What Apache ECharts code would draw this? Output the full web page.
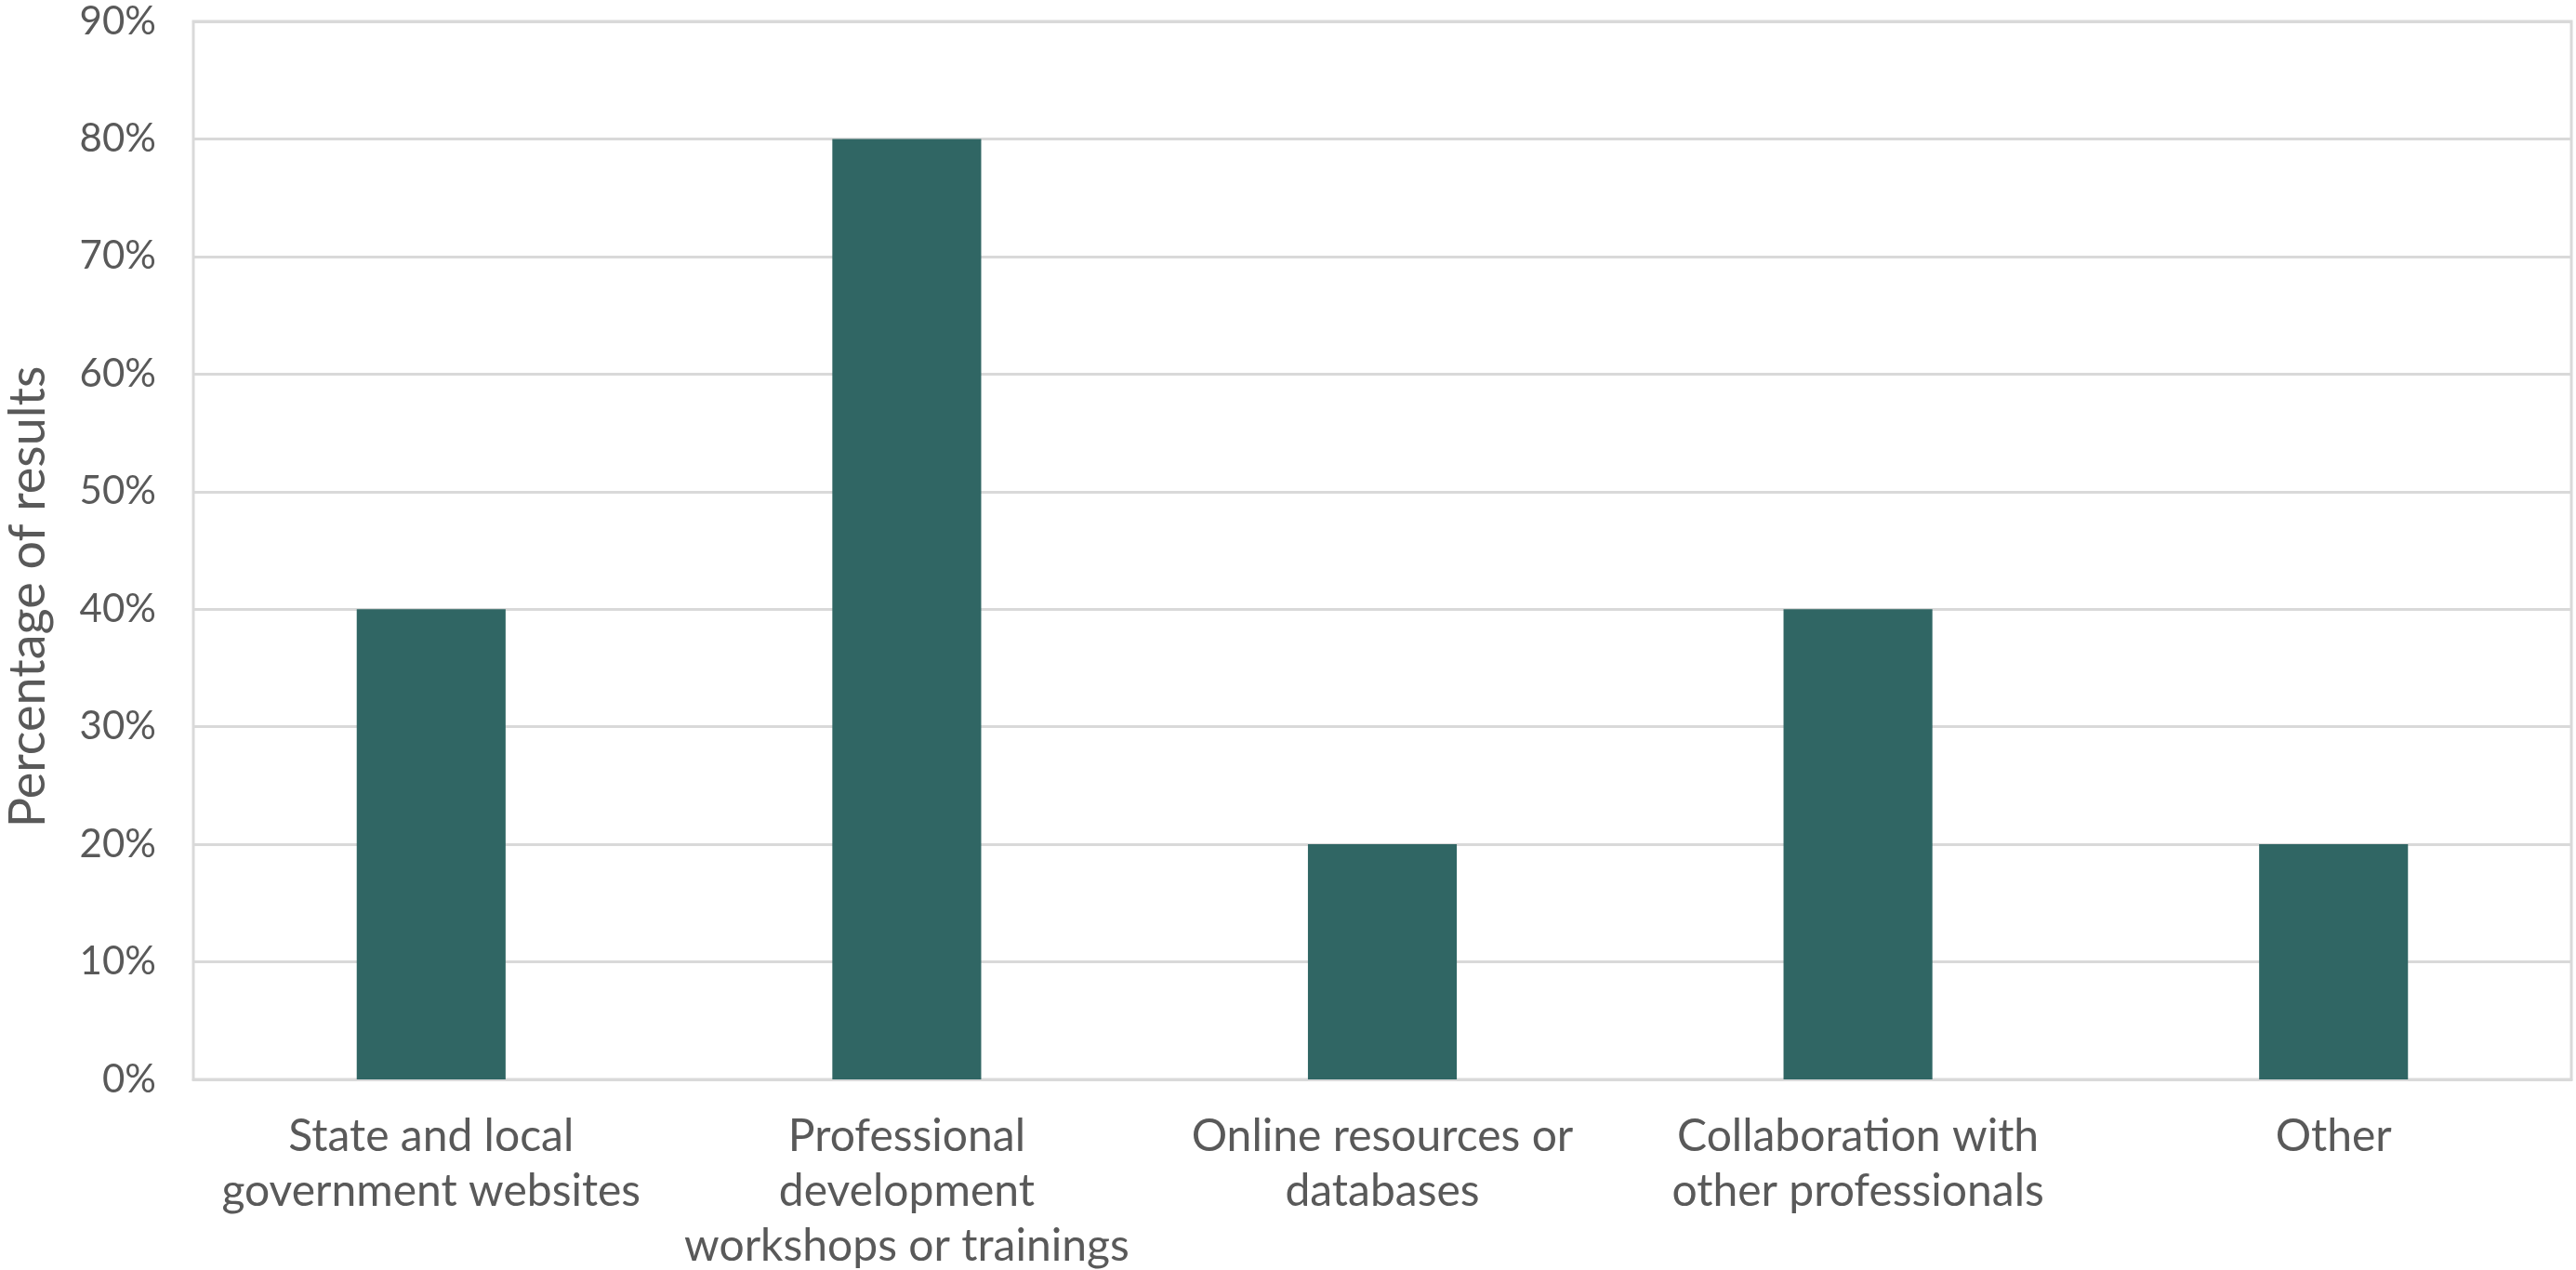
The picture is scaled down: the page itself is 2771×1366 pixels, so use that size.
<!DOCTYPE html>
<html>
<head>
<meta charset="utf-8">
<script src="https://cdn.jsdelivr.net/npm/echarts@6/dist/echarts.min.js"></script>
<style>
  html, body { margin: 0; padding: 0; background: #ffffff; }
  #chart { width: 2771px; height: 1366px; }
</style>
</head>
<body>
<div id="chart"></div>
<script>
// Survey responses: sources of information used
const categories = [
  'State and local\ngovernment websites',
  'Professional\ndevelopment\nworkshops or trainings',
  'Online resources or\ndatabases',
  'Collaboration with\nother professionals',
  'Other'
];
const percentages = [40, 80, 20, 40, 20];
const axisTitle = 'Percentage of results';
const yMin = 0;
const yMax = 90;
const yStep = 10;

const textColor = '#595959';
const lineColor = '#d9d9d9';
const barColor = '#306664';
const font = 'Lato';

const chart = echarts.init(document.getElementById('chart'), null, { renderer: 'canvas' });

chart.setOption({
  backgroundColor: '#ffffff',
  animation: false,
  grid: {
    left: 208,
    right: 5,
    top: 23,
    bottom: 205,
    show: true,
    borderColor: lineColor,
    borderWidth: 3,
    containLabel: false,
    outerBoundsMode: 'none'
  },
  xAxis: {
    type: 'category',
    data: categories,
    axisLine: { show: true, lineStyle: { color: lineColor, width: 3 } },
    axisTick: { show: false },
    axisLabel: {
      color: textColor,
      fontFamily: font,
      fontSize: 48,
      lineHeight: 59,
      margin: 32,
      interval: 0
    }
  },
  yAxis: {
    type: 'value',
    min: yMin,
    max: yMax,
    interval: yStep,
    name: axisTitle,
    nameLocation: 'middle',
    nameGap: 150,
    nameTextStyle: {
      color: textColor,
      fontFamily: font,
      fontSize: 54,
      padding: [0, 100, 0, 0]
    },
    axisLine: { show: false },
    axisTick: { show: false },
    axisLabel: {
      color: textColor,
      fontFamily: font,
      fontSize: 42,
      margin: 40,
      formatter: '{value}%'
    },
    splitLine: { show: true, lineStyle: { color: lineColor, width: 3 } }
  },
  series: [{
    type: 'bar',
    data: percentages,
    barWidth: '31.3%',
    itemStyle: { color: barColor }
  }]
});
</script>
</body>
</html>
